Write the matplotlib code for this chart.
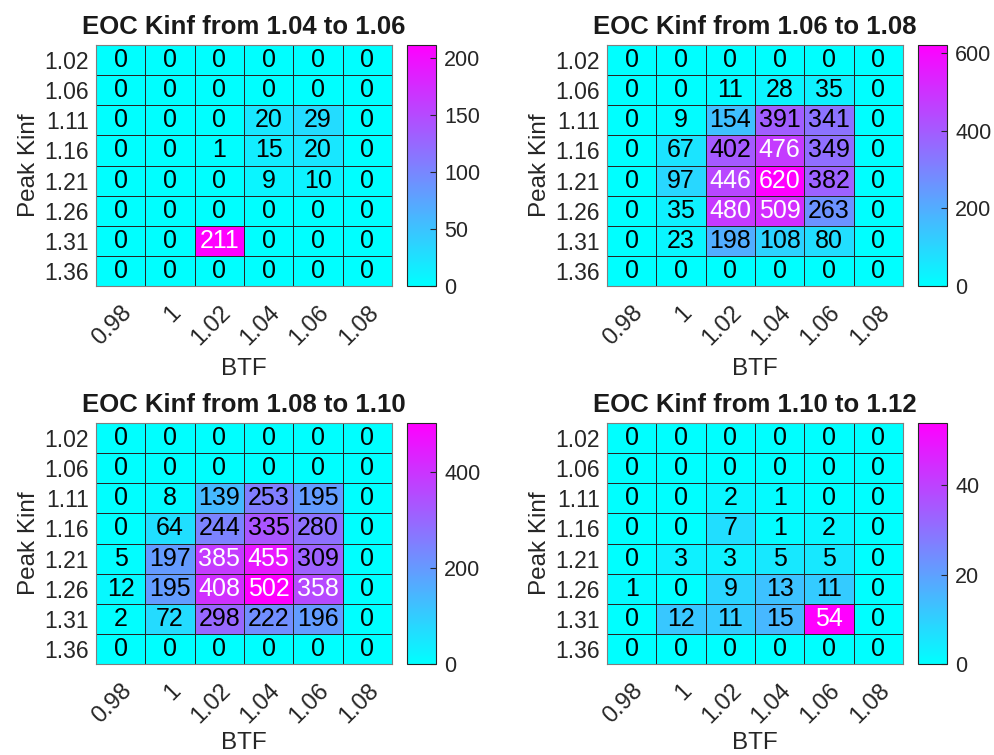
import matplotlib
matplotlib.use("Agg")
import matplotlib.pyplot as plt
import numpy as np

plt.rcParams["font.family"] = ["Liberation Sans", "DejaVu Sans"]

BTF = ["0.98", "1", "1.02", "1.04", "1.06", "1.08"]
PEAK_KINF = ["1.02", "1.06", "1.11", "1.16", "1.21", "1.26", "1.31", "1.36"]

TITLES = [
    "EOC Kinf from 1.04 to 1.06",
    "EOC Kinf from 1.06 to 1.08",
    "EOC Kinf from 1.08 to 1.10",
    "EOC Kinf from 1.10 to 1.12",
]

counts_104_106 = [
    [0, 0, 0, 0, 0, 0],
    [0, 0, 0, 0, 0, 0],
    [0, 0, 0, 20, 29, 0],
    [0, 0, 1, 15, 20, 0],
    [0, 0, 0, 9, 10, 0],
    [0, 0, 0, 0, 0, 0],
    [0, 0, 211, 0, 0, 0],
    [0, 0, 0, 0, 0, 0],
]
counts_106_108 = [
    [0, 0, 0, 0, 0, 0],
    [0, 0, 11, 28, 35, 0],
    [0, 9, 154, 391, 341, 0],
    [0, 67, 402, 476, 349, 0],
    [0, 97, 446, 620, 382, 0],
    [0, 35, 480, 509, 263, 0],
    [0, 23, 198, 108, 80, 0],
    [0, 0, 0, 0, 0, 0],
]
counts_108_110 = [
    [0, 0, 0, 0, 0, 0],
    [0, 0, 0, 0, 0, 0],
    [0, 8, 139, 253, 195, 0],
    [0, 64, 244, 335, 280, 0],
    [5, 197, 385, 455, 309, 0],
    [12, 195, 408, 502, 358, 0],
    [2, 72, 298, 222, 196, 0],
    [0, 0, 0, 0, 0, 0],
]
counts_110_112 = [
    [0, 0, 0, 0, 0, 0],
    [0, 0, 0, 0, 0, 0],
    [0, 0, 2, 1, 0, 0],
    [0, 0, 7, 1, 2, 0],
    [0, 3, 3, 5, 5, 0],
    [1, 0, 9, 13, 11, 0],
    [0, 12, 11, 15, 54, 0],
    [0, 0, 0, 0, 0, 0],
]
CBAR_TICKS = [
    [0, 50, 100, 150, 200],
    [0, 200, 400, 600],
    [0, 200, 400],
    [0, 20, 40],
]

W, H = 994, 755
# heatmap boxes in pixels: (left, top)
HEAT_BOXES = [(96, 45), (607, 45), (96, 423), (607, 423)]
HEAT_W, HEAT_H = 296, 241
CBAR_OFFSET, CBAR_W = 311, 29

TXT = "#262626"


def px_box(x, y, w, h):
    return [x / W, (H - y - h) / H, w / W, h / H]


def heatmap(fig, data, title, ticks, box):
    data = np.array(data, dtype=float)
    x0, y0 = box
    ax = fig.add_axes(px_box(x0, y0, HEAT_W, HEAT_H))
    vmax = data.max()
    mesh = ax.pcolormesh(data, cmap="cool", vmin=0, vmax=vmax,
                         edgecolors="#262626", linewidth=0.7)
    ax.set_xlim(0, data.shape[1])
    ax.set_ylim(data.shape[0], 0)
    for i in range(data.shape[0]):
        for j in range(data.shape[1]):
            v = data[i, j]
            color = "white" if v / vmax > 0.7 else "black"
            ax.text(j + 0.5, i + 0.5, f"{int(v)}", ha="center", va="center",
                    fontsize=18, color=color)
    ax.set_xticks(np.arange(data.shape[1]) + 0.5)
    ax.set_xticklabels(BTF, rotation=45, ha="right", va="top",
                       rotation_mode="anchor", fontsize=17, color=TXT)
    ax.set_yticks(np.arange(data.shape[0]) + 0.5)
    ax.set_yticklabels(PEAK_KINF, fontsize=16.5, color=TXT)
    ax.tick_params(axis="both", length=0)
    ax.tick_params(axis="x", pad=11)
    ax.tick_params(axis="y", pad=5)
    # bottom row sits right at the figure edge; keep its label inside
    ax.set_xlabel("BTF", fontsize=17.5, color=TXT, labelpad=6 if y0 < 200 else 3)
    ax.set_ylabel("Peak Kinf", fontsize=17.5, color=TXT, labelpad=3)
    ax.set_title(title, fontsize=18.5, fontweight="bold", color="#1a1a1a", pad=8)
    for s in ax.spines.values():
        s.set_color("#7f7f7f")
        s.set_linewidth(0.8)

    cax = fig.add_axes(px_box(x0 + CBAR_OFFSET, y0, CBAR_W, HEAT_H))
    cb = fig.colorbar(mesh, cax=cax)
    cb.set_ticks(ticks)
    cb.ax.tick_params(direction="in", length=4, width=0.8, color="#262626",
                      labelsize=15.5, labelcolor=TXT, pad=6)
    cb.outline.set_edgecolor("#262626")
    cb.outline.set_linewidth(0.8)


fig = plt.figure(figsize=(W / 100, H / 100), dpi=100)
all_counts = [counts_104_106, counts_106_108, counts_108_110, counts_110_112]
for data, title, ticks, box in zip(all_counts, TITLES, CBAR_TICKS, HEAT_BOXES):
    heatmap(fig, data, title, ticks, box)

fig.savefig("out.png", dpi=100)
